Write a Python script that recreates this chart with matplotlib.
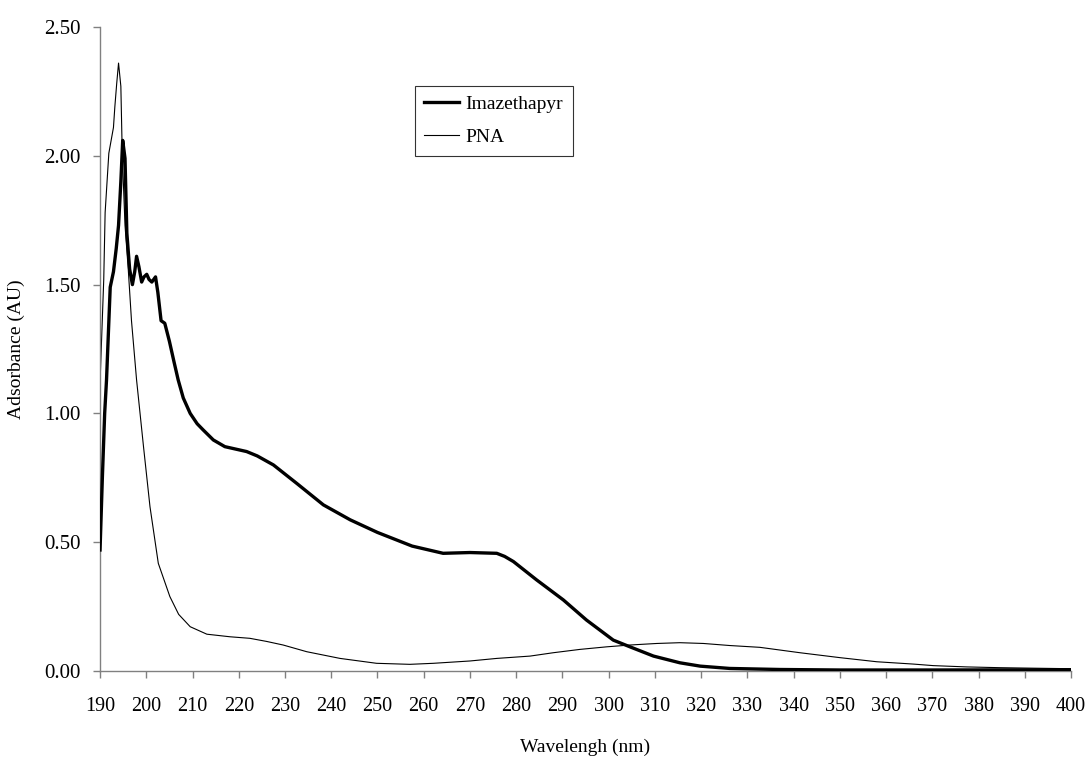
import numpy as np
import matplotlib
matplotlib.use("Agg")
from matplotlib import pyplot as plt

# Imazethapyr spectrum (wavelength nm, absorbance AU)
imz_wl = [190, 190.5, 191, 191.4, 192.2, 192.9, 193.5, 194.0, 194.5, 194.9,
          195.4, 195.8, 196.4, 197.0, 197.5, 197.9, 198.4, 199.0, 199.5, 200.1,
          200.6, 201.2, 202.0, 202.5, 203.2, 204.0, 205.0, 206.0, 206.9, 208.0,
          209.5, 211.0, 212.3, 214.5, 217.0, 221.7, 224.0, 227.5, 232.5, 238.3,
          244.1, 250.0, 257.5, 264.2, 270.0, 275.8, 277.5, 279.4, 284.4, 290.2,
          295.2, 301.0, 304.6, 309.7, 315.4, 319.8, 326.2, 337.0, 350.0, 370.0,
          400.0]
imz_abs = [0.47, 0.75, 1.00, 1.13, 1.49, 1.55, 1.64, 1.73, 1.90, 2.06,
           1.99, 1.70, 1.56, 1.50, 1.55, 1.61, 1.57, 1.51, 1.53, 1.54,
           1.52, 1.51, 1.53, 1.47, 1.36, 1.35, 1.28, 1.20, 1.13, 1.06,
           1.00, 0.96, 0.936, 0.897, 0.871, 0.852, 0.835, 0.80, 0.729, 0.645,
           0.587, 0.538, 0.485, 0.457, 0.46, 0.457, 0.445, 0.425, 0.354, 0.276,
           0.198, 0.12, 0.094, 0.058, 0.032, 0.019, 0.010, 0.006, 0.004, 0.004,
           0.005]

# PNA spectrum
pna_wl = [190, 190.8, 191.1, 191.9, 192.9, 193.2, 193.6, 194.0, 194.5, 194.8,
          195.4, 196.1, 196.8, 197.9, 199.4, 200.8, 202.6, 205.1, 207.0, 209.5,
          213.1, 218.1, 222.4, 226.0, 229.6, 234.7, 241.9, 249.8, 257.0, 262.1,
          270.0, 275.8, 283.0, 288.0, 293.8, 299.6, 304.6, 310.4, 315.4, 320.5,
          326.2, 332.7, 341.4, 350.0, 358.0, 365.9, 370.2, 377.4, 384.6, 392.0,
          400.0]
pna_abs = [1.12, 1.52, 1.78, 2.01, 2.11, 2.19, 2.28, 2.36, 2.27, 2.01,
           1.73, 1.56, 1.36, 1.13, 0.871, 0.638, 0.418, 0.289, 0.22, 0.172,
           0.143, 0.133, 0.127, 0.115, 0.101, 0.075, 0.049, 0.03, 0.026, 0.03,
           0.039, 0.049, 0.058, 0.071, 0.084, 0.094, 0.101, 0.107, 0.11, 0.107,
           0.099, 0.092, 0.071, 0.052, 0.036, 0.027, 0.021, 0.016, 0.013, 0.011,
           0.009]

x_ticks = np.arange(190, 401, 10)
y_ticks = [0.0, 0.5, 1.0, 1.5, 2.0, 2.5]

plt.rcParams['font.family'] = ['Liberation Serif', 'DejaVu Serif']

fig = plt.figure(figsize=(10.91, 7.59), dpi=100)
ax = fig.add_axes([0.0917, 0.1159, 0.89, 0.8485])

ax.plot(imz_wl, imz_abs, color='black', linewidth=2.4, label='Imazethapyr', zorder=3)
ax.plot(pna_wl, pna_abs, color='black', linewidth=0.8, label='PNA', zorder=2)

ax.set_xlim(190, 400)
ax.set_ylim(0, 2.5)
ax.set_xticks(x_ticks)
ax.set_xticklabels([str(v) for v in x_ticks], fontsize=14.5)
ax.set_yticks(y_ticks)
ax.set_yticklabels(['%.2f' % v for v in y_ticks], fontsize=15)

for s in ['top', 'right']:
    ax.spines[s].set_visible(False)
for s in ['left', 'bottom']:
    ax.spines[s].set_color('#808080')
    ax.spines[s].set_linewidth(1.0)
ax.tick_params(axis='both', direction='out', length=5, width=1.0, color='#808080')
ax.tick_params(axis='x', pad=14)
ax.tick_params(axis='y', pad=9)

ax.set_xlabel('Wavelengh (nm)', fontsize=14, labelpad=16)
ax.set_ylabel('Adsorbance (AU)', fontsize=14, labelpad=14)

leg = ax.legend(loc='upper left', bbox_to_anchor=(0.324, 0.909), fontsize=14,
                frameon=True, fancybox=False, edgecolor='black',
                handlelength=1.8, handletextpad=0.3, borderpad=0.5,
                labelspacing=0.8, borderaxespad=0)
leg.get_frame().set_linewidth(0.8)

plt.savefig('out.png', dpi=100)
